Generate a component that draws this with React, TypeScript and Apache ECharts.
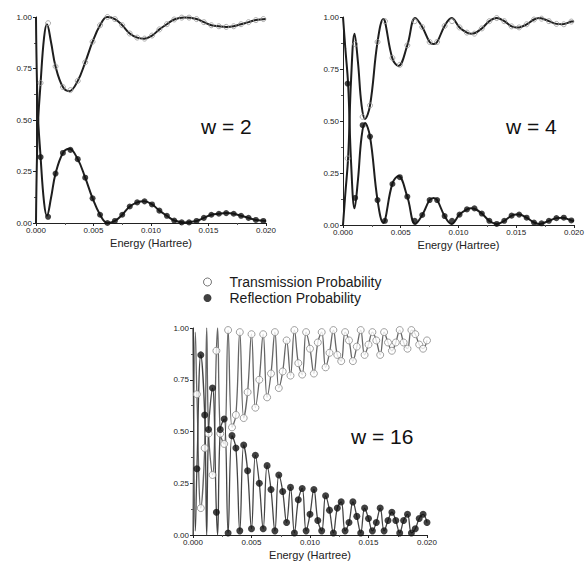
import React, { useEffect, useRef } from "react";
import * as echarts from "echarts";

// Energies are stored in units of 1e-3 Hartree (axis labels show Hartree)
const FONT = "'Liberation Sans', Arial, sans-serif";

// ---------- marker sample energies (top two panels) ----------
const TOP_MARKER_E = [
  0.4, 1.05, 1.7, 2.34, 2.99, 3.63, 4.28, 4.92, 5.57, 6.21, 6.86, 7.5, 8.15, 8.8, 9.44, 10.09,
  10.73, 11.38, 12.02, 12.67, 13.31, 13.96, 14.6, 15.25, 15.9, 16.54, 17.19, 17.83, 18.48, 19.12, 19.77,
];

// ---------- w = 2 ----------
const W2_T_MARKERS = [
  0.68, 0.97, 0.76, 0.66, 0.645, 0.69, 0.78, 0.88, 0.96, 1.0, 0.99, 0.96, 0.92, 0.9, 0.895, 0.91,
  0.94, 0.965, 0.988, 0.997, 0.997, 0.99, 0.975, 0.96, 0.955, 0.952, 0.955, 0.965, 0.975, 0.985, 0.99,
];
const W2_R_MARKERS = [
  0.32, 0.03, 0.24, 0.34, 0.355, 0.31, 0.22, 0.12, 0.04, 0.0, 0.01, 0.04, 0.08, 0.1, 0.105, 0.09,
  0.06, 0.035, 0.012, 0.003, 0.003, 0.01, 0.025, 0.04, 0.045, 0.048, 0.045, 0.035, 0.025, 0.015, 0.01,
];
const W2_CURVE_E = [
  0, 0.15, 0.4, 0.7, 0.95, 1.3, 1.7, 2.34, 2.9, 3.63, 4.28, 4.92, 5.57, 6.2, 6.86, 7.5, 8.15, 8.8,
  9.4, 10.09, 10.73, 11.38, 12.02, 12.9, 13.96, 14.6, 15.25, 15.9, 16.54, 17.19, 17.83, 18.48, 19.12, 20,
];
const W2_T_CURVE = [
  0, 0.45, 0.68, 0.9, 0.965, 0.88, 0.76, 0.66, 0.64, 0.69, 0.78, 0.88, 0.96, 1.0, 0.99, 0.96, 0.92, 0.9,
  0.895, 0.91, 0.94, 0.965, 0.988, 0.997, 0.99, 0.975, 0.96, 0.955, 0.952, 0.955, 0.965, 0.975, 0.985, 0.99,
];
const W2_R_CURVE = [
  1, 0.55, 0.32, 0.1, 0.035, 0.12, 0.24, 0.34, 0.36, 0.31, 0.22, 0.12, 0.04, 0.0, 0.01, 0.04, 0.08, 0.1,
  0.105, 0.09, 0.06, 0.035, 0.012, 0.003, 0.01, 0.025, 0.04, 0.045, 0.048, 0.045, 0.035, 0.025, 0.015, 0.01,
];

// ---------- w = 4 ----------
const W4_T_MARKERS = [
  0.32, 0.87, 0.52, 0.575, 0.88, 0.98, 0.803, 0.77, 0.864, 0.98, 0.952, 0.88, 0.88, 0.957, 0.98, 0.95,
  0.925, 0.92, 0.945, 0.98, 0.995, 0.98, 0.955, 0.95, 0.965, 0.988, 0.992, 0.98, 0.967, 0.965, 0.978,
];
const W4_R_MARKERS = [
  0.68, 0.13, 0.48, 0.425, 0.12, 0.02, 0.197, 0.23, 0.136, 0.02, 0.048, 0.12, 0.12, 0.043, 0.02, 0.05,
  0.075, 0.08, 0.055, 0.02, 0.005, 0.02, 0.045, 0.05, 0.035, 0.012, 0.008, 0.02, 0.033, 0.035, 0.022,
];
const W4_CURVE_E = [
  0, 0.2, 0.45, 0.7, 1.0, 1.3, 1.6, 1.9, 2.34, 2.99, 3.5, 3.63, 4.28, 4.8, 5.57, 6.25, 6.86, 7.5, 7.85,
  8.15, 8.8, 9.4, 10.09, 10.73, 11.1, 11.38, 12.02, 12.67, 13.3, 13.96, 14.6, 15.0, 15.25, 15.9, 16.54,
  17.0, 17.83, 18.48, 19.0, 19.77, 20,
];
const W4_T_CURVE = [
  0, 0.15, 0.33, 0.7, 0.92, 0.78, 0.58, 0.51, 0.575, 0.88, 0.99, 0.98, 0.8, 0.765, 0.864, 0.995, 0.952,
  0.88, 0.87, 0.88, 0.957, 0.995, 0.95, 0.925, 0.92, 0.922, 0.945, 0.98, 0.995, 0.98, 0.955, 0.95, 0.95,
  0.965, 0.988, 0.995, 0.98, 0.967, 0.965, 0.978, 0.98,
];
const W4_R_CURVE = [
  1, 0.85, 0.67, 0.3, 0.08, 0.22, 0.42, 0.49, 0.425, 0.12, 0.01, 0.02, 0.2, 0.235, 0.136, 0.005, 0.048,
  0.12, 0.13, 0.12, 0.043, 0.005, 0.05, 0.075, 0.08, 0.078, 0.055, 0.02, 0.005, 0.02, 0.045, 0.05, 0.05,
  0.035, 0.012, 0.005, 0.02, 0.033, 0.035, 0.022, 0.02,
];

// ---------- w = 16 ----------
const W16_MARKER_E = [
  0.333, 0.667, 1.0, 1.333, 1.667, 2.0, 2.333, 2.667, 3.0, 3.333, 3.667, 4.0, 4.333, 4.667, 5.0, 5.333,
  5.667, 6.0, 6.333, 6.667, 7.0, 7.333, 7.667, 8.0, 8.333, 8.667, 9.0, 9.333, 9.667, 10.0, 10.333, 10.667,
  11.0, 11.333, 11.667, 12.0, 12.333, 12.667, 13.0, 13.333, 13.667, 14.0, 14.333, 14.667, 15.0, 15.333,
  15.667, 16.0, 16.333, 16.667, 17.0, 17.333, 17.667, 18.0, 18.333, 18.667, 19.0, 19.333, 19.667, 20.0,
];
const W16_R_MARKERS = [
  0.32, 0.87, 0.58, 0.51, 0.71, 0.11, 0.51, 0.56, 0.01, 0.48, 0.42, 0.02, 0.435, 0.31, 0.03, 0.385,
  0.25, 0.03, 0.335, 0.22, 0.02, 0.29, 0.21, 0.06, 0.23, 0.01, 0.17, 0.225, 0.02, 0.1, 0.22, 0.07,
  0.02, 0.19, 0.12, 0.01, 0.13, 0.16, 0.02, 0.06, 0.16, 0.09, 0.01, 0.13, 0.08, 0.02,
  0.06, 0.13, 0.02, 0.07, 0.11, 0.07, 0.01, 0.07, 0.1, 0.01, 0.03, 0.08, 0.1, 0.06,
];
const W16_T_MARKERS = [
  0.68, 0.13, 0.42, 0.49, 0.29, 0.89, 0.49, 0.44, 0.99, 0.52, 0.58, 0.98, 0.565, 0.69, 0.97, 0.615,
  0.75, 0.97, 0.665, 0.78, 0.98, 0.71, 0.79, 0.94, 0.77, 0.99, 0.83, 0.775, 0.98, 0.9, 0.78, 0.93,
  0.98, 0.81, 0.88, 0.99, 0.87, 0.84, 0.98, 0.94, 0.84, 0.91, 0.99, 0.87, 0.92, 0.98,
  0.94, 0.87, 0.98, 0.93, 0.89, 0.93, 0.99, 0.93, 0.9, 0.99, 0.97, 0.92, 0.9, 0.94,
];
// extra curve points near E = 0 where the line swings fully between 0 and 1
const W16_EXTRA_E = [0, 0.2, 1.17, 2.1];
const W16_EXTRA_R = [1.0, 0.02, 0.0, 0.0];
const W16_EXTRA_T = [0.0, 0.98, 1.0, 1.0];

const LABEL_T = "Transmission Probability";
const LABEL_R = "Reflection Probability";

const zip = (xs: number[], ys: number[]) => xs.map((x, i) => [x, ys[i]]);
const mergeSorted = (a: number[][], b: number[][]) => [...a, ...b].sort((p, q) => p[0] - q[0]);

const GRIDS = [
  { left: 36, top: 17, width: 230, height: 206 },
  { left: 343, top: 17, width: 234, height: 208 },
  { left: 193, top: 328, width: 234, height: 207 },
];

function xAxis(gridIndex: number) {
  return {
    type: "value",
    gridIndex,
    min: 0,
    max: 20,
    interval: 5,
    name: "Energy (Hartree)",
    nameLocation: "middle",
    nameGap: 14,
    nameTextStyle: { fontSize: 11, color: "#222", fontFamily: FONT },
    axisLine: { show: true, lineStyle: { color: "#222", width: 1 } },
    axisTick: { show: true, length: 3, lineStyle: { color: "#222" } },
    minorTick: { show: true, splitNumber: 2, length: 2, lineStyle: { color: "#555" } },
    axisLabel: {
      fontSize: 8,
      color: "#222",
      margin: 3,
      fontFamily: FONT,
      formatter: (v: number) => (v / 1000).toFixed(3),
    },
    splitLine: { show: false },
  };
}

function yAxis(gridIndex: number) {
  return {
    type: "value",
    gridIndex,
    min: 0,
    max: 1,
    interval: 0.25,
    axisLine: { show: true, lineStyle: { color: "#222", width: 1 } },
    axisTick: { show: true, length: 3, lineStyle: { color: "#222" } },
    minorTick: { show: true, splitNumber: 2, length: 2, lineStyle: { color: "#555" } },
    axisLabel: {
      fontSize: 8,
      color: "#222",
      margin: 4,
      fontFamily: FONT,
      formatter: (v: number) => v.toFixed(2),
    },
    splitLine: { show: false },
  };
}

function curve(name: string, idx: number, data: number[][], color: string, width: number, z = 2) {
  return {
    name,
    type: "line",
    xAxisIndex: idx,
    yAxisIndex: idx,
    data,
    smooth: 0.4,
    showSymbol: false,
    symbol: "none",
    lineStyle: { color, width },
    z,
    silent: true,
  };
}

function marks(name: string, idx: number, data: number[][], open: boolean, size: number, openBorder: string, openFill: string) {
  return {
    name,
    type: "scatter",
    xAxisIndex: idx,
    yAxisIndex: idx,
    data,
    symbol: "circle",
    symbolSize: size,
    itemStyle: open
      ? { color: openFill, borderColor: openBorder, borderWidth: 1 }
      : { color: "#111", borderColor: "#111", borderWidth: 0 },
    z: 3,
  };
}

export default function App() {
  const ref = useRef<HTMLDivElement>(null);
  useEffect(() => {
    if (!ref.current) return;
    const chart = echarts.init(ref.current, undefined, { renderer: "svg" });

    const w16R = mergeSorted(zip(W16_MARKER_E, W16_R_MARKERS), zip(W16_EXTRA_E, W16_EXTRA_R));
    const w16T = mergeSorted(zip(W16_MARKER_E, W16_T_MARKERS), zip(W16_EXTRA_E, W16_EXTRA_T));

    chart.setOption({
      animation: false,
      backgroundColor: "#fff",
      textStyle: { fontFamily: FONT },
      grid: GRIDS.map((g) => ({ ...g, containLabel: false })),
      xAxis: [xAxis(0), xAxis(1), xAxis(2)],
      yAxis: [yAxis(0), yAxis(1), yAxis(2)],
      legend: {
        orient: "vertical",
        left: 198,
        top: 270,
        itemWidth: 34,
        itemHeight: 8,
        itemGap: 2,
        textStyle: { fontSize: 14, color: "#1a1a1a", fontFamily: FONT },
        data: [
          { name: LABEL_T, icon: "circle", itemStyle: { color: "#fff", borderColor: "#555", borderWidth: 1 } },
          { name: LABEL_R, icon: "circle", itemStyle: { color: "#111", borderWidth: 0 } },
        ],
        selectedMode: false,
      },
      graphic: [
        { type: "text", left: 201, top: 116, style: { text: "w = 2", font: `21px ${FONT}`, fill: "#111" } },
        { type: "text", left: 506, top: 116, style: { text: "w = 4", font: `21px ${FONT}`, fill: "#111" } },
        { type: "text", left: 351, top: 426, style: { text: "w = 16", font: `21px ${FONT}`, fill: "#111" } },
      ],
      series: [
        // w = 2
        curve("w2 T curve", 0, zip(W2_CURVE_E, W2_T_CURVE), "#1e1e1e", 2),
        curve("w2 R curve", 0, zip(W2_CURVE_E, W2_R_CURVE), "#1e1e1e", 2),
        marks(LABEL_T, 0, zip(TOP_MARKER_E, W2_T_MARKERS), true, 5, "#999", "rgba(255,255,255,0)"),
        marks(LABEL_R, 0, zip(TOP_MARKER_E, W2_R_MARKERS), false, 6, "#111", "#111"),
        // w = 4
        curve("w4 T curve", 1, zip(W4_CURVE_E, W4_T_CURVE), "#1e1e1e", 2),
        curve("w4 R curve", 1, zip(W4_CURVE_E, W4_R_CURVE), "#1e1e1e", 2),
        marks(LABEL_T, 1, zip(TOP_MARKER_E, W4_T_MARKERS), true, 5, "#999", "rgba(255,255,255,0)"),
        marks(LABEL_R, 1, zip(TOP_MARKER_E, W4_R_MARKERS), false, 6, "#111", "#111"),
        // w = 16
        curve("w16 T curve", 2, w16T, "#666", 1.3),
        curve("w16 R curve", 2, w16R, "#444", 1.3),
        marks(LABEL_T, 2, zip(W16_MARKER_E, W16_T_MARKERS), true, 7, "#888", "#fff"),
        marks(LABEL_R, 2, zip(W16_MARKER_E, W16_R_MARKERS), false, 7, "#111", "#111"),
      ],
    });
    return () => chart.dispose();
  }, []);

  return (
    <div
      ref={ref}
      style={{ position: "fixed", left: 0, top: 0, width: 587, height: 569, background: "#fff" }}
    />
  );
}
